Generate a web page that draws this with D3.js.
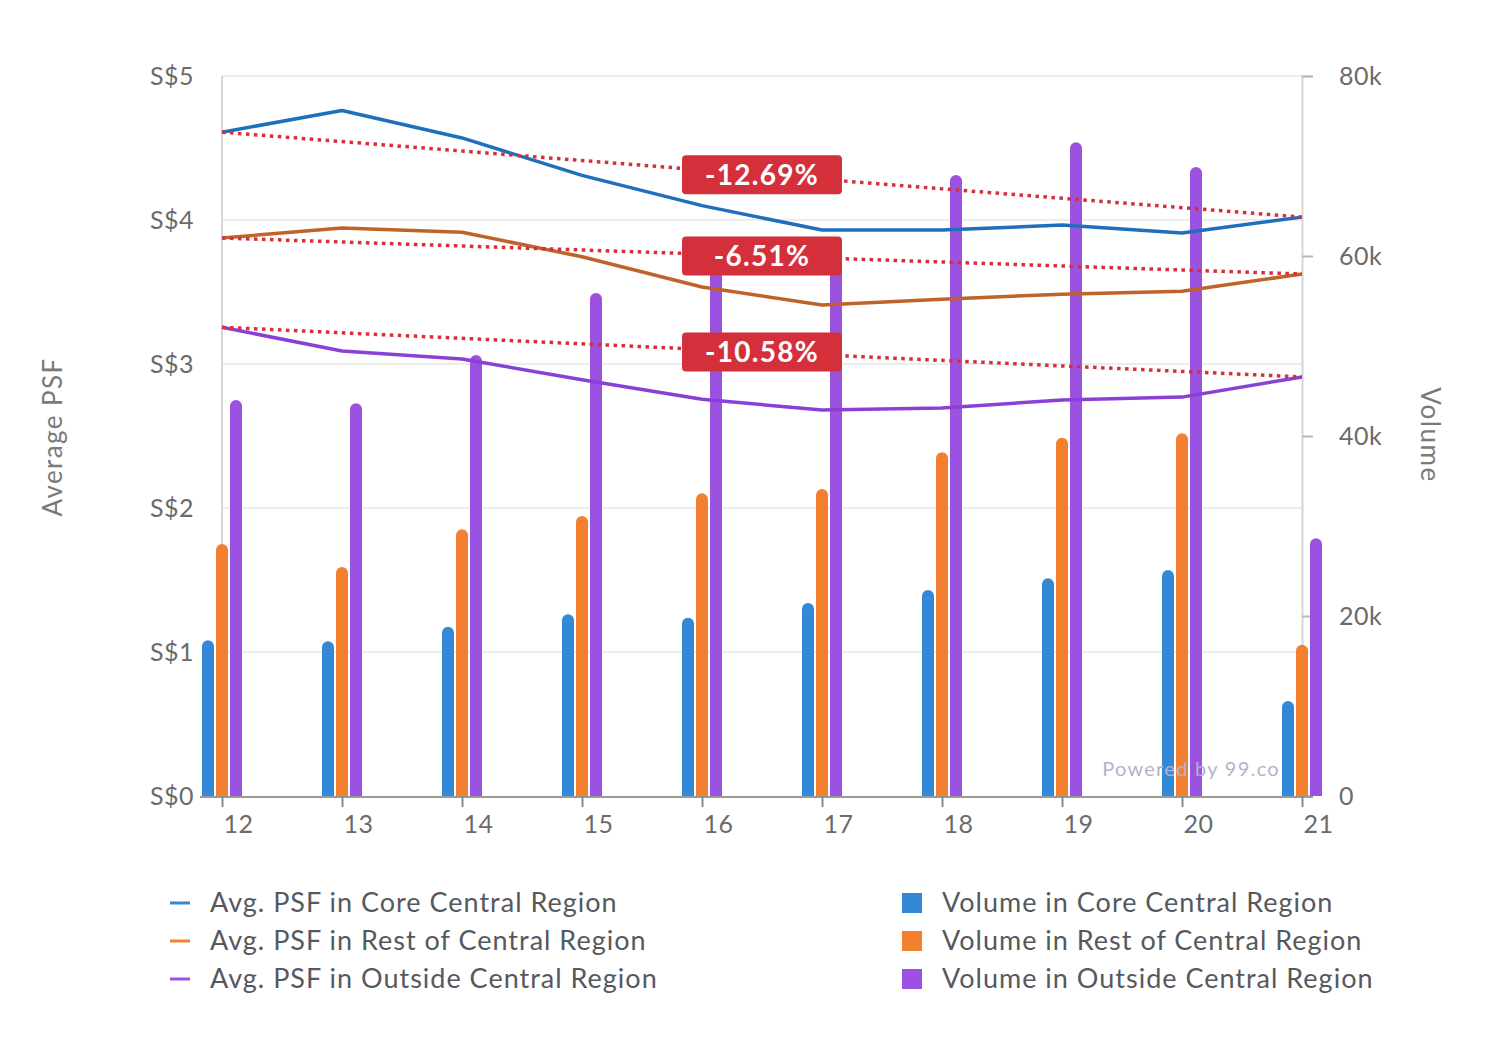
<!DOCTYPE html>
<html>
<head>
<meta charset="utf-8">
<script src="https://cdn.jsdelivr.net/npm/d3@7"></script>
<style>
  html, body { margin: 0; padding: 0; background: #fff; }
  svg { display: block; font-family: Lato, "Noto Sans", sans-serif; }
</style>
</head>
<body>
<svg id="chart" width="1498" height="1048"></svg>
<script>
// ---------- DATA ----------
const years = ["12", "13", "14", "15", "16", "17", "18", "19", "20", "21"];

const psfCCR = [4.61, 4.76, 4.57, 4.31, 4.10, 3.93, 3.93, 3.965, 3.91, 4.02];
const psfRCR = [3.875, 3.945, 3.915, 3.745, 3.535, 3.41, 3.45, 3.485, 3.505, 3.625];
const psfOCR = [3.255, 3.09, 3.035, 2.89, 2.755, 2.68, 2.695, 2.75, 2.77, 2.91];

const volCCR = [17300, 17200, 18800, 20200, 19800, 21450, 22900, 24200, 25100, 10550];
const volRCR = [28000, 25450, 29650, 31100, 33650, 34100, 38200, 39800, 40300, 16800];
const volOCR = [44000, 43650, 49000, 55900, 58500, 60000, 69000, 72650, 69900, 28650];

const trendLabels = ["-12.69%", "-6.51%", "-10.58%"];

const leftTicks = [0, 1, 2, 3, 4, 5];
const rightTicks = [0, 20000, 40000, 60000, 80000];

const lineNames = ["Avg. PSF in Core Central Region", "Avg. PSF in Rest of Central Region", "Avg. PSF in Outside Central Region"];
const barNames = ["Volume in Core Central Region", "Volume in Rest of Central Region", "Volume in Outside Central Region"];

// ---------- STYLE ----------
const barColors = ["#3389d6", "#f38031", "#9c52e1"];
const lineColors = ["#1f6fbd", "#bf6328", "#8a40d6"];
const legendLineColors = ["#3389d6", "#f38031", "#9c52e1"];
const red = "#d4303c";
const FONT = "Lato, sans-serif";

const svg = d3.select("#chart");
const L = 222, R = 1302, T = 76, B = 796;

const x = d3.scalePoint().domain(years).range([L, R]);
const yL = d3.scaleLinear().domain([0, 5]).range([B, T]);
const yR = d3.scaleLinear().domain([0, 80000]).range([B, T]);

// gridlines
svg.append("g").selectAll("line").data(leftTicks.slice(1)).join("line")
  .attr("x1", L).attr("x2", R)
  .attr("y1", d => yL(d)).attr("y2", d => yL(d))
  .attr("stroke", "#ececec").attr("stroke-width", 2);

// left axis line
svg.append("line").attr("x1", L).attr("x2", L).attr("y1", T).attr("y2", B)
  .attr("stroke", "#d6d6d6").attr("stroke-width", 2);

// right axis
const rAxis = svg.append("g").attr("transform", `translate(${R},0)`)
  .call(d3.axisRight(yR).tickValues(rightTicks).tickSize(11).tickPadding(26)
    .tickFormat(d => d === 0 ? "0" : (d / 1000) + "k"));
rAxis.select(".domain").attr("stroke", "#d6d6d6").attr("stroke-width", 2);
rAxis.selectAll(".tick line").attr("stroke", "#b8b8b8").attr("stroke-width", 2);
rAxis.selectAll(".tick text").attr("fill", "#6b6b6b").attr("font-size", 25)
  .attr("font-family", FONT).attr("letter-spacing", 0.5);

// left axis labels
const lAxis = svg.append("g").attr("transform", `translate(${L},0)`)
  .call(d3.axisLeft(yL).tickValues(leftTicks).tickSize(0).tickPadding(28)
    .tickFormat(d => "S$" + d));
lAxis.select(".domain").remove();
lAxis.selectAll(".tick text").attr("fill", "#6b6b6b").attr("font-size", 25)
  .attr("font-family", FONT).attr("letter-spacing", 0.5);

// bars
const bw = 12, gap = 2;
const groups = [volCCR, volRCR, volOCR];
const barG = svg.append("g");
groups.forEach((vals, si) => {
  const off = (si - 1) * (bw + gap);
  barG.append("g").selectAll("path").data(vals).join("path")
    .attr("fill", barColors[si])
    .attr("d", (d, i) => {
      const cx = x(years[i]) + off;
      const x0 = cx - bw / 2, x1 = cx + bw / 2;
      const yt = yR(d), r = bw / 2;
      return `M${x0},${B} L${x0},${yt + r} A${r},${r} 0 0 1 ${x1},${yt + r} L${x1},${B} Z`;
    });
});

// bottom axis
svg.append("line").attr("x1", 200).attr("x2", 1313).attr("y1", B + 1).attr("y2", B + 1)
  .attr("stroke", "#9a9a9a").attr("stroke-width", 2);
const xAxis = svg.append("g").attr("transform", `translate(0,${B})`)
  .call(d3.axisBottom(x).tickSize(11).tickPadding(8));
xAxis.select(".domain").remove();
xAxis.selectAll(".tick line").attr("stroke", "#8a8a8a").attr("stroke-width", 2);
xAxis.selectAll(".tick text").attr("fill", "#6b6b6b").attr("font-size", 25)
  .attr("font-family", FONT).attr("letter-spacing", 0.5).attr("dx", 16);

// watermark
svg.append("text").attr("x", 1280).attr("y", 776).attr("text-anchor", "end")
  .attr("fill", "#b3b3cc").attr("font-size", 20).attr("font-family", FONT)
  .attr("letter-spacing", 1.3)
  .text("Powered by 99.co");

// lines
const psfs = [psfCCR, psfRCR, psfOCR];
const lineGen = d3.line().x((d, i) => x(years[i])).y(d => yL(d));
psfs.forEach((vals, si) => {
  svg.append("path").datum(vals).attr("d", lineGen)
    .attr("fill", "none").attr("stroke", lineColors[si]).attr("stroke-width", 3.5)
    .attr("stroke-linejoin", "round");
});

// trend lines (first to last)
psfs.forEach((vals, si) => {
  const n = vals.length;
  svg.append("line")
    .attr("x1", x(years[0])).attr("y1", yL(vals[0]))
    .attr("x2", x(years[n - 1])).attr("y2", yL(vals[n - 1]))
    .attr("stroke", red).attr("stroke-width", 3.5).attr("stroke-dasharray", "3.5,4.5");
});

// trend labels at midpoint
psfs.forEach((vals, si) => {
  const n = vals.length;
  const mx = (x(years[0]) + x(years[n - 1])) / 2;
  const my = (yL(vals[0]) + yL(vals[n - 1])) / 2;
  const g = svg.append("g").attr("transform", `translate(${mx},${my})`);
  g.append("rect").attr("x", -80).attr("y", -19.5).attr("width", 160).attr("height", 39)
    .attr("rx", 4).attr("fill", red);
  g.append("text").attr("text-anchor", "middle").attr("dy", "0.36em")
    .attr("fill", "#fff").attr("font-size", 28).attr("font-weight", "bold")
    .attr("font-family", FONT).attr("letter-spacing", 1.3)
    .text(trendLabels[si]);
});

// axis titles
svg.append("text").attr("transform", "translate(62,437) rotate(-90)")
  .attr("text-anchor", "middle").attr("fill", "#7a7a7a").attr("font-size", 26)
  .attr("font-family", FONT).attr("letter-spacing", 1.4).text("Average PSF");
svg.append("text").attr("transform", "translate(1421,435) rotate(90)")
  .attr("text-anchor", "middle").attr("fill", "#7a7a7a").attr("font-size", 26)
  .attr("font-family", FONT).attr("letter-spacing", 1.6).text("Volume");

// legend
const legRows = [903, 941, 979];
lineNames.forEach((name, i) => {
  svg.append("rect").attr("x", 170).attr("y", legRows[i] - 1.5).attr("width", 20).attr("height", 3)
    .attr("fill", legendLineColors[i]);
  svg.append("text").attr("x", 210).attr("y", legRows[i]).attr("dy", "0.35em")
    .attr("fill", "#55595e").attr("font-size", 27).attr("font-family", FONT)
    .attr("letter-spacing", 1.0).text(name);
});
barNames.forEach((name, i) => {
  svg.append("rect").attr("x", 902).attr("y", legRows[i] - 10).attr("width", 20).attr("height", 20)
    .attr("fill", barColors[i]);
  svg.append("text").attr("x", 942).attr("y", legRows[i]).attr("dy", "0.35em")
    .attr("fill", "#55595e").attr("font-size", 27).attr("font-family", FONT)
    .attr("letter-spacing", 1.0).text(name);
});
</script>
</body>
</html>
